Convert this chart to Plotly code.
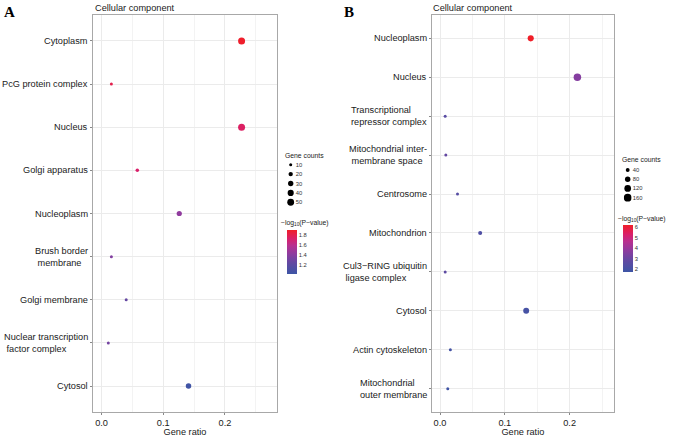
import plotly.graph_objects as go

# ---------------- data ----------------
a_terms = ["Cytoplasm", "PcG protein complex", "Nucleus", "Golgi apparatus", "Nucleoplasm",
           "Brush border<br> membrane", "Golgi membrane", "Nuclear transcription<br> factor complex", "Cytosol"]
a_ratio = [0.227, 0.016, 0.227, 0.058, 0.126, 0.016, 0.040, 0.011, 0.141]
a_count = [52, 4, 52, 13, 29, 4, 9, 3, 32]
a_logp = [1.89, 1.80, 1.74, 1.72, 1.42, 1.36, 1.24, 1.30, 1.02]

b_terms = ["Nucleoplasm", "Nucleus", "Transcriptional<br>repressor complex",
           "Mitochondrial inter-<br> membrane space", "Centrosome", "Mitochondrion",
           "Cul3\u2212RING ubiquitin<br> ligase complex", "Cytosol", "Actin cytoskeleton",
           "Mitochondrial<br>outer membrane"]
b_ratio = [0.140, 0.212, 0.008, 0.009, 0.027, 0.062, 0.008, 0.133, 0.016, 0.012]
b_count = [99, 150, 5, 7, 19, 44, 5, 94, 11, 8]
b_logp = [6.2, 3.6, 2.6, 2.9, 2.5, 2.3, 2.7, 2.05, 1.95, 1.85]

a_size_legend = [10, 20, 30, 40, 50]
b_size_legend = [40, 80, 120, 160]
a_cbar_ticks = [1.2, 1.4, 1.6, 1.8]
b_cbar_ticks = [2, 3, 4, 5, 6]
x_ticks = [0.0, 0.1, 0.2]

cscale = [[0.0, "#3D55A5"], [0.25, "#6249A2"], [0.45, "#8C3C9F"],
          [0.65, "#B8308F"], [0.8, "#D9206A"], [1.0, "#F01E28"]]

W, H = 677, 437
def px_x(p): return p / W
def px_y(p): return 1 - p / H

FONT = "Liberation Sans, Arial, sans-serif"
fig = go.Figure()

A_SREF = 2 * 52 / 7.0 ** 2
B_SREF = 2 * 150 / 7.5 ** 2

fig.add_trace(go.Scatter(
    x=a_ratio, y=list(range(len(a_terms))), mode="markers", xaxis="x", yaxis="y",
    marker=dict(size=a_count, sizemode="area", sizeref=A_SREF, sizemin=1.5, opacity=1,
                color=a_logp, coloraxis="coloraxis", line=dict(width=0)),
    showlegend=False, hoverinfo="skip"))
fig.add_trace(go.Scatter(
    x=b_ratio, y=list(range(len(b_terms))), mode="markers", xaxis="x2", yaxis="y2",
    marker=dict(size=b_count, sizemode="area", sizeref=B_SREF, sizemin=1.5, opacity=1,
                color=b_logp, coloraxis="coloraxis2", line=dict(width=0)),
    showlegend=False, hoverinfo="skip"))

# size legends
fig.add_trace(go.Scatter(
    x=[0.5] * len(a_size_legend), y=a_size_legend, mode="markers", xaxis="x3", yaxis="y3",
    marker=dict(size=a_size_legend, sizemode="area", sizeref=A_SREF, color="black", opacity=1,
                line=dict(width=0)),
    showlegend=False, hoverinfo="skip"))
fig.add_trace(go.Scatter(
    x=[0.5] * len(b_size_legend), y=b_size_legend, mode="markers", xaxis="x4", yaxis="y4",
    marker=dict(size=b_size_legend, sizemode="area", sizeref=B_SREF, color="black", opacity=1,
                line=dict(width=0)),
    showlegend=False, hoverinfo="skip"))

grid = "#EBEBEB"
border = "#A8A8A8"
def xax(dom, rng, anchor):
    return dict(domain=dom, range=rng, anchor=anchor, tickvals=x_ticks,
                ticktext=["0.0", "0.1", "0.2"], ticks="outside", ticklen=2, tickcolor="#888",
                tickfont=dict(family=FONT, size=9.2, color="#1a1a1a"),
                showgrid=True, gridcolor=grid, gridwidth=0.8, zeroline=False,
                minor=dict(tick0=0.05, dtick=0.1, showgrid=True, gridcolor="#F3F3F3", gridwidth=0.6),
                showline=True, mirror=True, linecolor=border, linewidth=1.2,
                title=dict(text="Gene ratio", font=dict(family=FONT, size=9.2, color="#1a1a1a"), standoff=2),
                fixedrange=True)

def yax(dom, n, anchor):
    return dict(domain=dom, range=[n - 1 + 0.6, -0.6], anchor=anchor,
                tickvals=list(range(n)), showticklabels=False, ticks="outside", ticklen=2,
                tickcolor="#888", showgrid=True, gridcolor=grid, gridwidth=0.8, zeroline=False,
                showline=True, mirror=True, linecolor=border, linewidth=1.2, fixedrange=True)

ydom = [px_y(412), px_y(15)]
layout = dict(
    width=W, height=H, margin=dict(l=0, r=0, t=0, b=0),
    paper_bgcolor="white", plot_bgcolor="white", showlegend=False,
    xaxis=xax([px_x(93), px_x(277)], [-0.0138, 0.2844], "y"),
    yaxis=yax(ydom, len(a_terms), "x"),
    xaxis2=xax([px_x(431.7), px_x(614)], [-0.0128, 0.2685], "y2"),
    yaxis2=yax(ydom, len(b_terms), "x2"),
    xaxis3=dict(domain=[px_x(286.7), px_x(294.7)], range=[0, 1], anchor="y3", visible=False, fixedrange=True),
    yaxis3=dict(domain=[px_y(207), px_y(160)], range=[55, 5], anchor="x3", side="right",
                tickvals=a_size_legend, ticktext=[str(v) for v in a_size_legend],
                ticks="", showgrid=False, zeroline=False, showline=False,
                tickfont=dict(family=FONT, size=5.8, color="#333"), fixedrange=True),
    xaxis4=dict(domain=[px_x(623.7), px_x(631.7)], range=[0, 1], anchor="y4", visible=False, fixedrange=True),
    yaxis4=dict(domain=[px_y(202.3), px_y(165.4)], range=[180, 20], anchor="x4", side="right",
                tickvals=b_size_legend, ticktext=[str(v) for v in b_size_legend],
                ticks="", showgrid=False, zeroline=False, showline=False,
                tickfont=dict(family=FONT, size=5.8, color="#333"), fixedrange=True),
    coloraxis=dict(colorscale=cscale, cmin=1.0, cmax=1.9,
                   colorbar=dict(x=px_x(287), xanchor="left", y=px_y(252.3), yanchor="middle",
                                 lenmode="pixels", len=43.5, thickness=9.5, outlinewidth=0,
                                 tickvals=a_cbar_ticks, ticktext=["1.2", "1.4", "1.6", "1.8"],
                                 ticks="", xpad=0, ypad=0,
                                 tickfont=dict(family=FONT, size=5.8, color="#333"))),
    coloraxis2=dict(colorscale=cscale, cmin=1.75, cmax=6.2,
                    colorbar=dict(x=px_x(622.7), xanchor="left", y=px_y(248.3), yanchor="middle",
                                  lenmode="pixels", len=46.5, thickness=9.5, outlinewidth=0,
                                  tickvals=b_cbar_ticks, ticktext=[str(v) for v in b_cbar_ticks],
                                  ticks="", xpad=0, ypad=0,
                                  tickfont=dict(family=FONT, size=5.8, color="#333"))),
)
fig.update_layout(**layout)

ann = []
for i, t in enumerate(a_terms):
    ann.append(dict(text=t, xref="x domain", yref="y", x=0, y=i, xanchor="right", yanchor="middle",
                    xshift=-3, align="left", showarrow=False,
                    font=dict(family=FONT, size=9.2, color="#1a1a1a")))
for i, t in enumerate(b_terms):
    ann.append(dict(text=t, xref="x2 domain", yref="y2", x=0, y=i, xanchor="right", yanchor="middle",
                    xshift=-3, align="left", showarrow=False,
                    font=dict(family=FONT, size=9.2, color="#1a1a1a")))

def txt(s, x, y, size, **kw):
    d = dict(text=s, xref="paper", yref="paper", x=px_x(x), y=px_y(y), xanchor="left",
             yanchor="middle", showarrow=False, font=dict(family=FONT, size=size, color="#1a1a1a"))
    d.update(kw)
    return d

ann += [
    txt("Cellular component", 93, 7.5, 9.2),
    txt("Cellular component", 431.5, 7.5, 9.2),
    txt("Gene counts", 283, 155, 6.8),
    txt("Gene counts", 619.5, 159, 6.8),
    txt("\u2212log<sub>10</sub>(P\u2212value)", 279, 222.5, 6.8),
    txt("\u2212log<sub>10</sub>(P\u2212value)", 616, 218.5, 6.8),
    dict(text="<b>A</b>", xref="paper", yref="paper", x=px_x(9.5), y=px_y(12), xanchor="center",
         yanchor="middle", showarrow=False, font=dict(family="Liberation Serif, Times New Roman, serif", size=15, color="black")),
    dict(text="<b>B</b>", xref="paper", yref="paper", x=px_x(349), y=px_y(12), xanchor="center",
         yanchor="middle", showarrow=False, font=dict(family="Liberation Serif, Times New Roman, serif", size=15, color="black")),
]
fig.update_layout(annotations=ann)

fig.write_html("out.html", config={"displayModeBar": False},
               post_script="document.body.style.margin='0';document.body.style.overflow='hidden';")
